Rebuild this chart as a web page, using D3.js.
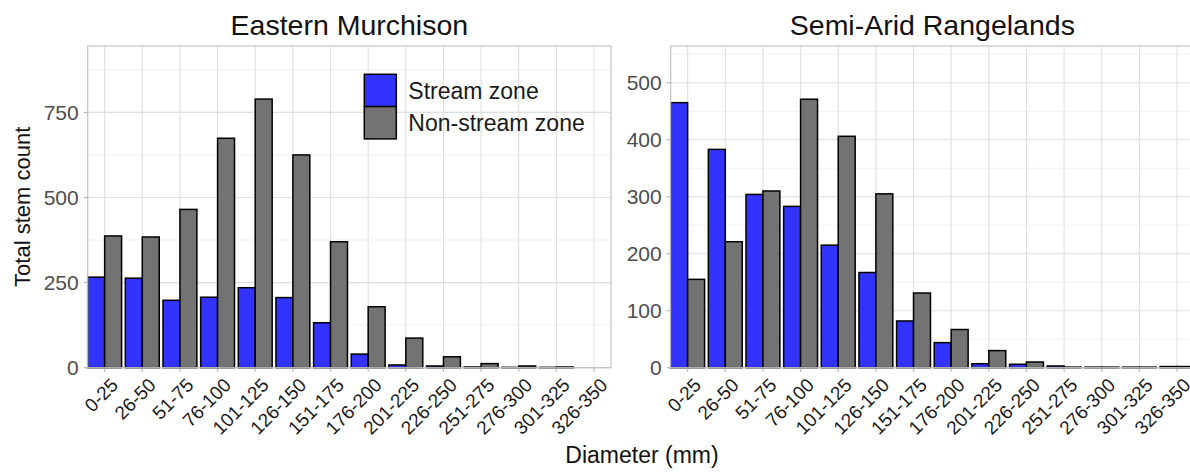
<!DOCTYPE html>
<html>
<head>
<meta charset="utf-8">
<script src="https://cdn.jsdelivr.net/npm/d3@7/dist/d3.min.js"></script>
<style>
  html, body { margin: 0; padding: 0; background: #ffffff; }
  svg { display: block; font-family: "Liberation Sans", Arial, sans-serif; }
</style>
</head>
<body>
<svg id="chart" width="1190" height="473"></svg>
<script>
// Diameter classes (mm)
const categories = ["0-25", "26-50", "51-75", "76-100", "101-125", "126-150", "151-175",
  "176-200", "201-225", "226-250", "251-275", "276-300", "301-325", "326-350"];

const seriesNames = ["Stream zone", "Non-stream zone"];
const seriesColors = ["#3333ff", "#737373"];

// Eastern Murchison stem counts (null = no stems recorded)
const murchisonStream    = [266, 263, 198, 207, 235, 206, 132, 40, 8, 5, 2, 1, 1, null];
const murchisonNonStream = [387, 384, 465, 674, 789, 625, 370, 179, 87, 32, 12, 5, 2, null];

// Semi-Arid Rangelands stem counts
const rangelandsStream    = [465, 383, 304, 283, 215, 167, 82, 44, 7, 6, 3, 1, 1, 2];
const rangelandsNonStream = [155, 221, 310, 471, 406, 305, 131, 67, 30, 10, 1, 1, 1, 2];

const murchisonTicks = [0, 250, 500, 750];
const rangelandsTicks = [0, 100, 200, 300, 400, 500];

const panels = [
  { title: "Eastern Murchison", stream: murchisonStream, nonStream: murchisonNonStream,
    yMax: 945, ticks: murchisonTicks, minorStep: 125, x0: 87.7, x1: 611, legend: true },
  { title: "Semi-Arid Rangelands", stream: rangelandsStream, nonStream: rangelandsNonStream,
    yMax: 564.4, ticks: rangelandsTicks, minorStep: 50, x0: 670.7, x1: 1194, legend: false }
];

const panelTop = 46, panelBottom = 367.7;
const svg = d3.select("#chart");

panels.forEach(p => {
  const g = svg.append("g");

  const x = d3.scaleBand().domain(categories).range([p.x0, p.x1])
    .paddingInner(0.1).paddingOuter(0);
  const xs = d3.scaleBand().domain(seriesNames).range([0, x.bandwidth()]).padding(0);
  const y = d3.scaleLinear().domain([0, p.yMax]).range([panelBottom, panelTop]);
  const center = c => x(c) + x.bandwidth() / 2;

  // minor horizontal grid
  const minor = d3.range(p.minorStep, p.yMax, p.minorStep * 2);
  g.selectAll(".minor").data(minor).join("line")
    .attr("x1", p.x0).attr("x2", p.x1)
    .attr("y1", d => y(d)).attr("y2", d => y(d))
    .attr("stroke", "#ededed").attr("stroke-width", 0.8);

  // major horizontal grid
  g.selectAll(".major").data(p.ticks).join("line")
    .attr("x1", p.x0).attr("x2", p.x1)
    .attr("y1", d => y(d)).attr("y2", d => y(d))
    .attr("stroke", "#dfdfdf").attr("stroke-width", 1.1);

  // vertical grid at class centres
  g.selectAll(".vgrid").data(categories).join("line")
    .attr("x1", d => center(d)).attr("x2", d => center(d))
    .attr("y1", panelTop).attr("y2", panelBottom)
    .attr("stroke", "#dfdfdf").attr("stroke-width", 1.1);

  // bars
  const rows = [];
  categories.forEach((c, i) => {
    [p.stream[i], p.nonStream[i]].forEach((v, k) => {
      if (v !== null) rows.push({ c, s: seriesNames[k], v, k });
    });
  });
  g.selectAll(".bar").data(rows).join("rect")
    .attr("x", d => x(d.c) + xs(d.s))
    .attr("width", xs.bandwidth())
    .attr("y", d => y(d.v))
    .attr("height", d => panelBottom - y(d.v))
    .attr("fill", d => seriesColors[d.k])
    .attr("stroke", "#000").attr("stroke-width", 1.5);

  // panel border
  g.append("rect")
    .attr("x", p.x0).attr("y", panelTop)
    .attr("width", p.x1 - p.x0).attr("height", panelBottom - panelTop)
    .attr("fill", "none").attr("stroke", "#c4c4c4").attr("stroke-width", 1.2);

  // y axis ticks & labels
  g.selectAll(".ytick").data(p.ticks).join("line")
    .attr("x1", p.x0 - 4).attr("x2", p.x0)
    .attr("y1", d => y(d)).attr("y2", d => y(d))
    .attr("stroke", "#b3b3b3").attr("stroke-width", 1.1);
  g.selectAll(".ylab").data(p.ticks).join("text")
    .attr("x", p.x0 - 9).attr("y", d => y(d))
    .attr("dy", "0.36em").attr("text-anchor", "end")
    .attr("font-size", 21).attr("fill", "#4d4d4d")
    .text(d => d);

  // x axis ticks & rotated labels
  g.selectAll(".xtick").data(categories).join("line")
    .attr("x1", d => center(d)).attr("x2", d => center(d))
    .attr("y1", panelBottom).attr("y2", panelBottom + 4)
    .attr("stroke", "#b3b3b3").attr("stroke-width", 1.1);
  g.selectAll(".xlab").data(categories).join("text")
    .attr("transform", d => `translate(${center(d) + 5},${panelBottom + 9}) rotate(-45)`)
    .attr("text-anchor", "end").attr("dy", "0.72em")
    .attr("font-size", 19).attr("fill", "#1a1a1a")
    .text(d => d);

  // panel title
  g.append("text")
    .attr("x", (p.x0 + p.x1) / 2).attr("y", 35)
    .attr("text-anchor", "middle").attr("font-size", 28.5).attr("fill", "#111")
    .text(p.title);

  if (p.legend) {
    const lg = g.append("g").attr("transform", "translate(364.3,74.3)");
    seriesNames.forEach((s, k) => {
      lg.append("rect").attr("x", 0).attr("y", k * 32.3)
        .attr("width", 32).attr("height", 32.3)
        .attr("fill", seriesColors[k]).attr("stroke", "#000").attr("stroke-width", 1.5);
      lg.append("text").attr("x", 44).attr("y", k * 32.3 + 16.2)
        .attr("dy", "0.36em").attr("font-size", 23).attr("fill", "#1a1a1a")
        .text(s);
    });
  }
});

// axis titles
svg.append("text")
  .attr("transform", `translate(30,${(panelTop + panelBottom) / 2}) rotate(-90)`)
  .attr("text-anchor", "middle").attr("font-size", 22).attr("fill", "#111")
  .text("Total stem count");

svg.append("text")
  .attr("x", 642).attr("y", 463)
  .attr("text-anchor", "middle").attr("font-size", 23).attr("fill", "#111")
  .text("Diameter (mm)");
</script>
</body>
</html>
